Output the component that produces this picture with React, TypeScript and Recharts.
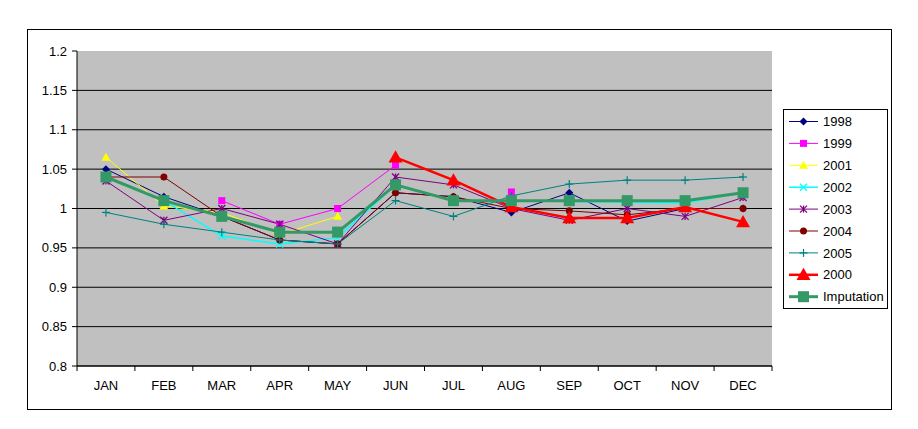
import React from 'react'
import { LineChart, Line, XAxis, YAxis, CartesianGrid } from 'recharts'

// monthly factors
const months = ['JAN', 'FEB', 'MAR', 'APR', 'MAY', 'JUN', 'JUL', 'AUG', 'SEP', 'OCT', 'NOV', 'DEC']
const yTicks = [0.8, 0.85, 0.9, 0.95, 1, 1.05, 1.1, 1.15, 1.2]
const gridValues = [0.8, 0.85, 0.9, 0.95, 1, 1.05, 1.1, 1.15]

const y1998 = [1.05, 1.015, 0.99, 0.96, 0.955, 1.02, 1.015, 0.995, 1.02, 0.984, 1.0, 1.0]
const y1999 = [null, null, 1.01, 0.98, 1.0, 1.055, null, 1.021, null, null, null, null]
const y2001 = [1.065, 1.003, 0.995, 0.967, 0.99, null, null, null, null, null, null, null]
const y2002 = [1.04, 1.01, 0.965, 0.955, 0.963, 1.03, 1.01, 1.01, 1.009, 1.008, 1.007, 1.02]
const y2003 = [1.035, 0.985, 1.0, 0.98, 0.955, 1.04, 1.03, 1.0, 0.985, 1.0, 0.99, 1.014]
const y2004 = [1.04, 1.04, 0.99, 0.96, 0.955, 1.02, 1.015, 1.0, 0.997, 0.992, 1.0, 1.0]
const y2005 = [0.995, 0.98, 0.97, 0.96, 0.955, 1.01, 0.99, 1.016, 1.031, 1.036, 1.036, 1.04]
const y2000 = [null, null, null, null, null, 1.065, 1.036, 1.002, 0.988, 0.988, 1.002, 0.983]
const yImputation = [1.04, 1.01, 0.99, 0.97, 0.97, 1.03, 1.01, 1.01, 1.01, 1.01, 1.01, 1.02]

const series = [
  { key: 's1998', name: '1998', values: y1998, color: '#000080', shape: 'diamond', width: 1, size: 4 },
  { key: 's1999', name: '1999', values: y1999, color: '#ff00ff', shape: 'square', width: 1, size: 3.5 },
  { key: 's2001', name: '2001', values: y2001, color: '#ffff00', shape: 'triangle', width: 1, size: 4.5 },
  { key: 's2002', name: '2002', values: y2002, color: '#00ffff', shape: 'x', width: 1.5, size: 3.5 },
  { key: 's2003', name: '2003', values: y2003, color: '#800080', shape: 'star', width: 1, size: 3.5 },
  { key: 's2004', name: '2004', values: y2004, color: '#800000', shape: 'circle', width: 1, size: 3.5 },
  { key: 's2005', name: '2005', values: y2005, color: '#008080', shape: 'plus', width: 1, size: 4 },
  { key: 's2000', name: '2000', values: y2000, color: '#ff0000', shape: 'triangle', width: 2.5, size: 7 },
  { key: 'sImp', name: 'Imputation', values: yImputation, color: '#339966', shape: 'square', width: 3, size: 5.5 },
]

const data = months.map((m, i) => {
  const row: Record<string, string | number | null> = { month: m }
  series.forEach((s) => {
    row[s.key] = s.values[i]
  })
  return row
})

const FONT = '"Liberation Sans", Arial, sans-serif'
const W = 918
const H = 429
const PLOT_LEFT = 77
const PLOT_RIGHT = 772
const PLOT_TOP = 51
const PLOT_BOTTOM = 366
const HALF_BAND = (PLOT_RIGHT - PLOT_LEFT) / months.length / 2

function Marker({ shape, cx, cy, color, size }: any) {
  const s = size
  switch (shape) {
    case 'diamond':
      return <polygon points={`${cx},${cy - s} ${cx + s},${cy} ${cx},${cy + s} ${cx - s},${cy}`} fill={color} />
    case 'square':
      return <rect x={cx - s} y={cy - s} width={s * 2} height={s * 2} fill={color} />
    case 'triangle':
      return <polygon points={`${cx},${cy - s} ${cx + s},${cy + s * 0.75} ${cx - s},${cy + s * 0.75}`} fill={color} />
    case 'circle':
      return <circle cx={cx} cy={cy} r={s} fill={color} />
    case 'x':
      return (
        <g stroke={color} strokeWidth={1.3}>
          <line x1={cx - s} y1={cy - s} x2={cx + s} y2={cy + s} />
          <line x1={cx - s} y1={cy + s} x2={cx + s} y2={cy - s} />
        </g>
      )
    case 'star':
      return (
        <g stroke={color} strokeWidth={1.3}>
          <line x1={cx - s} y1={cy - s} x2={cx + s} y2={cy + s} />
          <line x1={cx - s} y1={cy + s} x2={cx + s} y2={cy - s} />
          <line x1={cx} y1={cy - s} x2={cx} y2={cy + s} />
        </g>
      )
    case 'plus':
      return (
        <g stroke={color} strokeWidth={1.2}>
          <line x1={cx - s} y1={cy} x2={cx + s} y2={cy} />
          <line x1={cx} y1={cy - s} x2={cx} y2={cy + s} />
        </g>
      )
    default:
      return null
  }
}

function MonthTick({ x, payload, index }: any) {
  const isLast = index === months.length - 1
  return (
    <g>
      <line x1={x - HALF_BAND} y1={PLOT_BOTTOM} x2={x - HALF_BAND} y2={PLOT_BOTTOM + 5} stroke="#000" />
      {isLast && <line x1={x + HALF_BAND} y1={PLOT_BOTTOM} x2={x + HALF_BAND} y2={PLOT_BOTTOM + 5} stroke="#000" />}
      <text x={x} y={PLOT_BOTTOM + 24} textAnchor="middle" fontSize={13} fontFamily={FONT} fill="#000">
        {payload.value}
      </text>
    </g>
  )
}

function Legend() {
  return (
    <div
      style={{
        position: 'absolute',
        left: 783,
        top: 109,
        width: 103,
        height: 198,
        border: '1px solid #000',
        background: '#fff',
      }}
    >
      <svg width={103} height={198}>
        {series.map((s, i) => {
          const cy = 11.5 + i * 21.9
          return (
            <g key={s.key}>
              <line x1={5} y1={cy} x2={34} y2={cy} stroke={s.color} strokeWidth={s.width} />
              <Marker shape={s.shape} cx={19.5} cy={cy} color={s.color} size={s.size} />
              <text x={39} y={cy + 4.6} fontSize={13} fontFamily={FONT} fill="#000">
                {s.name}
              </text>
            </g>
          )
        })}
      </svg>
    </div>
  )
}

export default function App() {
  return (
    <div style={{ position: 'absolute', left: 0, top: 0, width: W, height: H, background: '#fff' }}>
      <div
        style={{
          position: 'absolute',
          left: 27,
          top: 29,
          width: 863,
          height: 379,
          border: '1px solid #000',
        }}
      />
      <div style={{ position: 'absolute', left: 0, top: 0 }}>
        <LineChart
          width={W}
          height={H}
          data={data}
          margin={{ top: PLOT_TOP, right: W - PLOT_RIGHT, bottom: 0, left: 0 }}
        >
          <CartesianGrid vertical={false} stroke="#000" fill="#c0c0c0" horizontalValues={gridValues} />
          <XAxis
            dataKey="month"
            height={H - PLOT_BOTTOM}
            padding={{ left: HALF_BAND, right: HALF_BAND }}
            axisLine={{ stroke: '#000' }}
            tickLine={false}
            interval={0}
            tick={<MonthTick />}
          />
          <YAxis
            width={PLOT_LEFT}
            domain={[0.8, 1.2]}
            ticks={yTicks}
            interval={0}
            axisLine={{ stroke: '#000' }}
            tickLine={{ stroke: '#000' }}
            tickSize={5}
            tickMargin={5}
            tick={{ fontSize: 13, fontFamily: FONT, fill: '#000' }}
            tickFormatter={(v: number) => String(v)}
          />
          {series.map((s) => (
            <Line
              key={s.key}
              dataKey={s.key}
              name={s.name}
              stroke={s.color}
              strokeWidth={s.width}
              isAnimationActive={false}
              activeDot={false}
              dot={(p: any) =>
                p.cy == null || p.value == null ? (
                  <g key={`${s.key}-${p.index}`} />
                ) : (
                  <g key={`${s.key}-${p.index}`}>
                    <Marker shape={s.shape} cx={p.cx} cy={p.cy} color={s.color} size={s.size} />
                  </g>
                )
              }
            />
          ))}
        </LineChart>
      </div>
      <Legend />
    </div>
  )
}
